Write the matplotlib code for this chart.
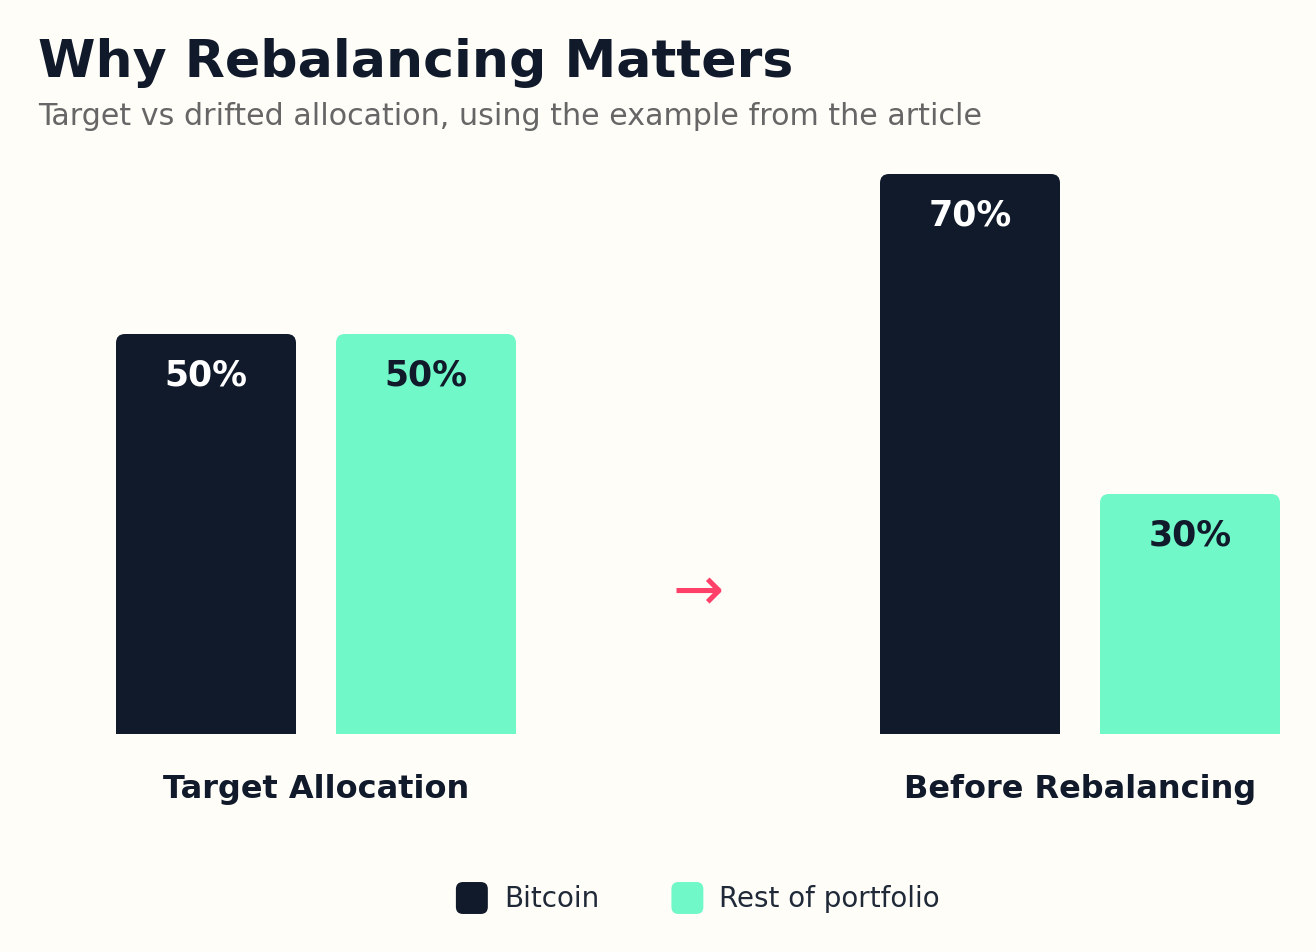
"""Target vs drifted allocation bar chart (Why Rebalancing Matters)."""
import matplotlib
matplotlib.use("Agg")
import matplotlib.pyplot as plt
from matplotlib.patches import FancyBboxPatch, Patch
from matplotlib.legend_handler import HandlerPatch
import numpy as np

GROUPS = ["Target Allocation", "Before Rebalancing"]
SERIES = ["Bitcoin", "Rest of portfolio"]
BITCOIN = [50, 70]
REST = [50, 30]

BG = "#fefdf8"
NAVY = "#111a2b"
MINT = "#70f8c8"
ARROW = "#ff4069"
GREY = "#666666"

W_PX, H_PX, DPI = 1316, 952, 100


class RoundSquareHandler(HandlerPatch):
    def create_artists(self, legend, orig_handle, xdescent, ydescent,
                       width, height, fontsize, trans):
        s = min(width, height)
        p = FancyBboxPatch((-xdescent + (width - s) / 2, -ydescent + (height - s) / 2),
                           s, s, boxstyle=f"round,pad=0,rounding_size={s * 0.22}",
                           fc=orig_handle.get_facecolor(), ec="none", transform=trans)
        return [p]


def main():
    plt.rcParams["font.family"] = "DejaVu Sans"
    fig = plt.figure(figsize=(W_PX / DPI, H_PX / DPI), dpi=DPI, facecolor=BG)

    # axes placed in pixel terms: x=0 -> 316px, x=1 -> 1080px, y=0 -> 734px
    left, right, bottom, top = 40, 1316, 734, 150
    ax = fig.add_axes([left / W_PX, 1 - bottom / H_PX,
                       (right - left) / W_PX, (bottom - top) / H_PX])
    ax.set_facecolor(BG)
    px_x = 764.0
    ax.set_xlim((left - 316) / px_x, (right - 316) / px_x)
    ax.set_ylim(0, (bottom - top) / 8.0)
    for s in ax.spines.values():
        s.set_visible(False)
    ax.set_yticks([])

    x = np.arange(len(GROUPS))
    width = 180 / px_x
    off = 110 / px_x
    b1 = ax.bar(x - off, BITCOIN, width, color=NAVY, label=SERIES[0])
    b2 = ax.bar(x + off, REST, width, color=MINT, label=SERIES[1])

    # round the top corners by clipping each bar to a rounded box
    p0 = ax.transData.transform((0, 0))
    p1 = ax.transData.transform((1, 1))
    asp = (p1[0] - p0[0]) / (p1[1] - p0[1])
    r = 9 / px_x
    for bars in (b1, b2):
        for b in bars:
            clip = FancyBboxPatch((b.get_x(), -20), b.get_width(), b.get_height() + 20,
                                  boxstyle=f"round,pad=0,rounding_size={r}",
                                  mutation_aspect=asp, transform=ax.transData)
            b.set_clip_path(clip)

    for bars, tc in ((b1, "white"), (b2, NAVY)):
        for b in bars:
            h = b.get_height()
            ax.text(b.get_x() + b.get_width() / 2, h - 5.25, f"{h:.0f}%",
                    ha="center", va="center", fontsize=25, fontweight="bold", color=tc)

    ax.text(0.5, max(BITCOIN) * 0.25, "\u2192", ha="center", va="center",
            fontsize=44, color=ARROW)

    ax.set_xticks(x)
    ax.set_xticklabels(GROUPS, fontsize=23, fontweight="bold", color=NAVY)
    ax.tick_params(axis="x", length=0, pad=29)

    handles = [Patch(facecolor=NAVY, label=SERIES[0]), Patch(facecolor=MINT, label=SERIES[1])]
    fig.legend(handles=handles, loc="center", ncol=2, frameon=False,
               bbox_to_anchor=(698 / W_PX, 1 - 898 / H_PX),
               fontsize=20, labelcolor="#1f2937",
               handlelength=1.15, handleheight=1.4, handletextpad=0.58,
               columnspacing=2.6,
               handler_map={Patch: RoundSquareHandler()})

    fig.text(38 / W_PX, 1 - 77 / H_PX, "Why Rebalancing Matters", fontsize=37.5,
             fontweight="bold", color=NAVY, va="baseline", ha="left")
    fig.text(38 / W_PX, 1 - 125 / H_PX,
             "Target vs drifted allocation, using the example from the article",
             fontsize=21.7, color=GREY, va="baseline", ha="left")

    fig.savefig("out.png", dpi=DPI, facecolor=BG)


if __name__ == "__main__":
    main()
